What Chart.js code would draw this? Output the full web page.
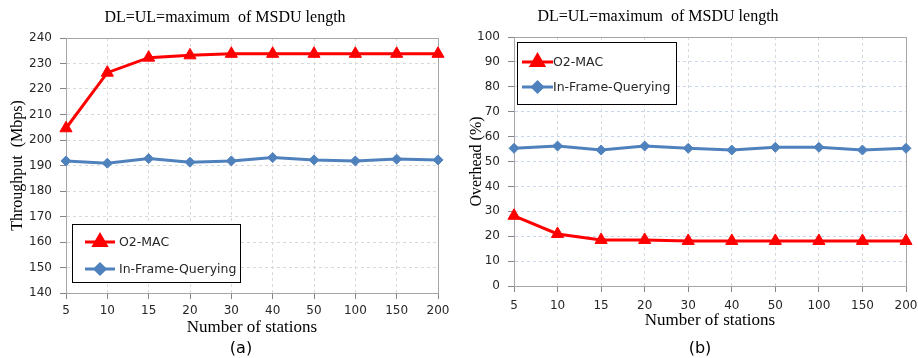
<!DOCTYPE html>
<html>
<head>
<meta charset="utf-8">
<script src="https://cdn.jsdelivr.net/npm/chart.js@4.4.0/dist/chart.umd.min.js"></script>
<style>
  body { margin: 0; background: #fff; overflow: hidden; }
  #wrap { position: relative; width: 918px; height: 358px; overflow: hidden; }
  canvas { position: absolute; top: 0; }
  .ttl { position: absolute; transform: translateX(-50%); font-family: "Liberation Serif"; font-size: 16px; line-height: 18px; white-space: pre; color: #000; }
  .cap { position: absolute; transform: translateX(-50%); font-family: "DejaVu Sans"; font-size: 16px; line-height: 20px; color: #000; }
</style>
</head>
<body>
<div id="wrap">
  <canvas id="chartA" width="459" height="358" style="left:0"></canvas>
  <canvas id="chartB" width="470" height="358" style="left:459px"></canvas>
  <div class="ttl" style="left:225px; top:8px">DL=UL=maximum  of MSDU length</div>
  <div class="ttl" style="left:658px; top:7px">DL=UL=maximum  of MSDU length</div>
  <div class="cap" style="left:241px; top:338px">(a)</div>
  <div class="cap" style="left:700px; top:338px">(b)</div>
</div>
<script>
const stations = ["5", "10", "15", "20", "30", "40", "50", "100", "150", "200"];
const seriesNames = ["O2-MAC", "In-Frame-Querying"];
// throughput (Mbps)
const thrO2 = [204.6, 226.4, 232.3, 233.2, 233.8, 233.8, 233.8, 233.8, 233.8, 233.8];
const thrIFQ = [191.8, 190.9, 192.7, 191.3, 191.8, 193.1, 192.2, 191.8, 192.5, 192.2];
// overhead (%)
const ovhO2 = [28.2, 20.9, 18.5, 18.5, 18.1, 18.1, 18.1, 18.1, 18.1, 18.1];
const ovhIFQ = [55.3, 56.2, 54.6, 56.2, 55.3, 54.6, 55.7, 55.7, 54.6, 55.3];
const thrRange = [140, 240, 10];
const ovhRange = [0, 100, 10];

const RED = "#FF0000";
const BLUE = "#4F81BD";

// solid grey frame round the plot area
const plotFrame = {
  id: "plotFrame",
  beforeDatasetsDraw(chart) {
    const a = chart.chartArea;
    const ctx = chart.ctx;
    ctx.save();
    ctx.strokeStyle = "#A6A6A6";
    ctx.lineWidth = 1;
    ctx.strokeRect(Math.round(a.left) + 0.5, Math.round(a.top) + 0.5,
      Math.round(a.right - a.left), Math.round(a.bottom - a.top));
    ctx.restore();
  }
};

// Excel-like boxed legend inside the plot
const boxLegend = {
  id: "boxLegend",
  afterDraw(chart, args, o) {
    const ctx = chart.ctx;
    ctx.save();
    ctx.fillStyle = "#fff";
    ctx.fillRect(o.x, o.y, o.w, o.h);
    ctx.strokeStyle = "#000";
    ctx.lineWidth = 1;
    ctx.strokeRect(o.x + 0.5, o.y + 0.5, o.w, o.h);
    ctx.font = "12.5px 'DejaVu Sans'";
    ctx.textBaseline = "middle";
    chart.data.datasets.forEach((ds, i) => {
      const y = o.y + o.rows[i];
      ctx.strokeStyle = ds.borderColor;
      ctx.lineWidth = 3;
      ctx.beginPath();
      ctx.moveTo(o.x + o.l0, y);
      ctx.lineTo(o.x + o.l1, y);
      ctx.stroke();
      ctx.fillStyle = ds.pointBackgroundColor;
      ctx.strokeStyle = ds.pointBorderColor;
      Chart.helpers.drawPoint(ctx, { pointStyle: ds.pointStyle, radius: ds.pointRadius, borderWidth: 1 },
        o.x + (o.l0 + o.l1) / 2, y);
      ctx.fillStyle = "#262626";
      ctx.fillText(ds.label, o.x + o.tx, y + 1);
    });
    ctx.restore();
  }
};

function makeSets(o2, ifq) {
  return [{
    label: seriesNames[0],
    data: o2,
    borderColor: RED,
    backgroundColor: RED,
    pointBackgroundColor: RED,
    pointBorderColor: RED,
    borderWidth: 3,
    pointStyle: "triangle",
    pointRadius: 7,
    pointBorderWidth: 1,
    tension: 0
  }, {
    label: seriesNames[1],
    data: ifq,
    borderColor: BLUE,
    backgroundColor: BLUE,
    pointBackgroundColor: BLUE,
    pointBorderColor: BLUE,
    borderWidth: 3,
    pointStyle: "rectRot",
    pointRadius: 5,
    pointBorderWidth: 1,
    tension: 0
  }];
}

function makeChart(id, o2, ifq, range, yTitle, yWidth, pad, hGrid, legend, xTickPad) {
  return new Chart(document.getElementById(id), {
    type: "line",
    data: { labels: stations, datasets: makeSets(o2, ifq) },
    plugins: [plotFrame, boxLegend],
    options: {
      responsive: false,
      animation: false,
      layout: { padding: pad },
      plugins: {
        legend: { display: false },
        tooltip: { enabled: false },
        boxLegend: legend
      },
      scales: {
        x: {
          offset: false,
          grid: { color: "#D9D9D9", tickColor: "#868686", tickLength: 6 },
          border: { color: "#868686", dash: [3, 3] },
          ticks: { color: "#262626", font: { family: "DejaVu Sans", size: 12 }, padding: xTickPad, maxRotation: 0, autoSkip: false },
          title: { display: true, text: "Number of stations", color: "#000",
            font: { family: "Liberation Serif", size: 17 }, padding: { top: 0, bottom: 0 } },
          afterFit(s) { s.height = 45; }
        },
        y: {
          min: range[0], max: range[1],
          grid: { color: hGrid, tickColor: "#868686", tickLength: 6 },
          border: { color: "#868686", dash: [3, 3] },
          ticks: { stepSize: range[2], color: "#262626", font: { family: "DejaVu Sans", size: 12 }, padding: 8 },
          title: { display: true, text: yTitle, color: "#000",
            font: { family: "Liberation Serif", size: 16 }, padding: { top: 8, bottom: 0 } },
          afterFit(s) { s.width = yWidth; }
        }
      }
    }
  });
}

makeChart("chartA", thrO2, thrIFQ, thrRange, "Throughput  (Mbps)", 66,
  { top: 38, bottom: 20, left: 0, right: 21 }, "#D9D9D9",
  { x: 72, y: 224, w: 168, h: 58, rows: [18, 45], l0: 13, l1: 43, tx: 47 }, 5);

makeChart("chartB", ovhO2, ovhIFQ, ovhRange, "Overhead (%)", 55,
  { top: 37, bottom: 27, left: 0, right: 23 }, "#C9D7EE",
  { x: 58, y: 42, w: 159, h: 62, rows: [20, 45], l0: 5, l1: 36, tx: 36 }, 7);
</script>
</body>
</html>
